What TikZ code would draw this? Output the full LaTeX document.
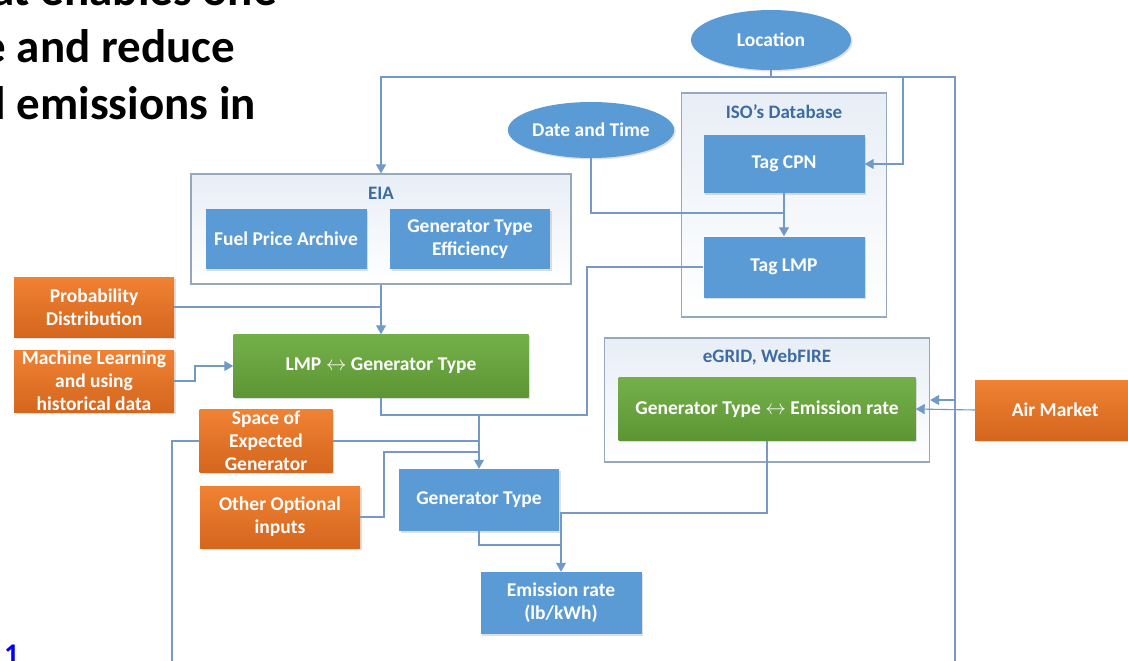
\documentclass[tikz,border=0pt]{standalone}
\usepackage{fontspec}
\setmainfont{Carlito}
\usetikzlibrary{shapes.geometric,shadows,arrows.meta}

\definecolor{boxblue}{RGB}{91,155,213}
\definecolor{boxgreen}{RGB}{116,176,74}
\definecolor{boxgreendk}{RGB}{92,150,52}
\definecolor{boxorange}{RGB}{240,130,52}
\definecolor{boxorangedk}{RGB}{212,102,30}
\definecolor{wirecol}{RGB}{118,154,196}
\definecolor{framecol}{RGB}{150,168,192}
\definecolor{framefill}{RGB}{232,238,246}
\definecolor{titlecol}{RGB}{62,108,162}

\tikzset{
  boxtext/.style={text=white, font=\bfseries\fontsize{19.5}{23}\selectfont, align=center, inner sep=0pt},
  bluebox/.style={boxtext, fill=boxblue, drop shadow={opacity=0.25,shadow xshift=1.5pt,shadow yshift=-1.5pt}},
  greenbox/.style={boxtext, top color=boxgreen, bottom color=boxgreendk, drop shadow={opacity=0.25,shadow xshift=1.5pt,shadow yshift=-1.5pt}},
  orangebox/.style={boxtext, top color=boxorange, bottom color=boxorangedk, drop shadow={opacity=0.25,shadow xshift=1.5pt,shadow yshift=-1.5pt}},
  blueoval/.style={boxtext, ellipse, fill=boxblue, drop shadow={opacity=0.25,shadow xshift=1.5pt,shadow yshift=-1.5pt}},
  frame/.style={draw=framecol, line width=1.2pt, top color=framefill, bottom color=white, inner sep=0pt},
  frametitle/.style={text=titlecol, font=\bfseries\fontsize{19}{22}\selectfont, inner sep=0pt},
  wire/.style={draw=wirecol, line width=1.1pt},
  wirearrow/.style={wire, -{Triangle[length=9pt,width=10pt]}, color=wirecol!85!boxblue},
  slidetext/.style={font=\bfseries\fontsize{47}{57}\selectfont, inner sep=0pt}
}

\begin{document}
\begin{tikzpicture}[x=1pt,y=1pt,yscale=-1]
\useasboundingbox (0,0) rectangle (1128,661);

% slide text behind the picture
\node [slidetext, anchor=base east] (slideA) at (277,6) {at enables one};
\node [slidetext, anchor=base east] (slideB) at (235,63) {e and reduce};
\node [slidetext, anchor=base east] (slideC) at (256,120) {l emissions in};
\node [anchor=north west, inner sep=0pt, text={rgb,255:red,0;green,0;blue,255}, font=\bfseries\fontsize{30}{32}\selectfont] (slideD) at (4,645) {1};

%Shape: Frame
\node [frame, minimum width=380, minimum height=110] (eia) at (381,229) {};
\node [frametitle] (eiatitle) at (381,193) {EIA};
\node [frame, minimum width=205, minimum height=224] (iso) at (784,205) {};
\node [frametitle] (isotitle) at (784,112) {ISO’s Database};
\node [frame, minimum width=325, minimum height=124] (egrid) at (767,400) {};
\node [frametitle] (egridtitle) at (767,357) {eGRID, WebFIRE};

% Ovals
\node [blueoval, minimum width=160, minimum height=60] (loc) at (771,40) {Location};
\node [blueoval, minimum width=162, minimum height=56] (datetime) at (591,130) {Date and Time};

% Blue boxes
\node [bluebox, minimum width=161, minimum height=58] (tagcpn) at (784,164) {Tag CPN};
\node [bluebox, minimum width=161, minimum height=61] (taglmp) at (784,267) {Tag LMP};
\node [bluebox, minimum width=161, minimum height=60] (fuel) at (286,239) {Fuel Price Archive};
\node [bluebox, minimum width=160, minimum height=60] (geneff) at (470,239) {Generator Type\\Efficiency};
\node [bluebox, minimum width=160, minimum height=62] (gentype) at (479,500) {Generator Type};
\node [bluebox, minimum width=161, minimum height=62] (emis) at (561,603) {Emission rate\\(lb/kWh)};

% Green boxes
\node [greenbox, minimum width=295, minimum height=63] (lmpgen) at (381,366) {LMP $\leftrightarrow$ Generator Type};
\node [greenbox, minimum width=297, minimum height=63] (genemis) at (767,409) {Generator Type $\leftrightarrow$ Emission rate};

% Orange boxes
\node [orangebox, minimum width=160, minimum height=60] (prob) at (94,307) {Probability\\Distribution};
\node [orangebox, minimum width=160, minimum height=62] (mlearn) at (94,381) {Machine Learning\\and using\\historical data};
\node [orangebox, minimum width=133, minimum height=63] (space) at (266,441) {Space of\\Expected\\Generator};
\node [orangebox, minimum width=160, minimum height=62] (other) at (280,517) {Other Optional\\inputs};
\node [orangebox, minimum width=160, minimum height=60, anchor=west] (air) at (975,410) {Air Market};

% Junction points
\coordinate (topbus) at (0,77);
\coordinate (cpnin) at (903,0);
\coordinate (rightbus) at (955,661);
\coordinate (dtbus) at (0,213);
\coordinate (mlbend) at (195,0);
\coordinate (genbus) at (0,415);
\coordinate (lmpbend) at (587,0);
\coordinate (otherbend) at (384,452);
\coordinate (leftdown) at (172,661);
\coordinate (embus) at (0,545);
\coordinate (egbus) at (0,513);

% Location
\draw [wire] (loc.south) -- (loc.south |- topbus);
\draw [wirearrow] (loc.south |- topbus) -| (eia.north);
\draw [wirearrow] (loc.south |- topbus) -| (cpnin |- tagcpn.east) -- (tagcpn.east);
\draw [wire] (loc.south |- topbus) -| (rightbus);
\draw [wirearrow] (rightbus |- 0,400) -- (egrid.east |- 0,400);
\draw [wirearrow] (air.west) -- (genemis.east);

% ISO
\draw [wirearrow] (tagcpn.south) -- (taglmp.north);
\draw [wire] (datetime.south) |- (tagcpn.south |- dtbus);

% LMP <-> Generator Type inputs
\draw [wirearrow] (eia.south) -- (lmpgen.north);
\draw [wire] (prob.east) -- (eia.south |- prob.east);
\draw [wirearrow] (mlearn.east) -| (mlbend |- lmpgen.west) -- (lmpgen.west);

% Generator Type inputs
\draw [wirearrow] (lmpgen.south) |- (gentype.north |- genbus) -- (gentype.north);
\draw [wire] (taglmp.west) -| (lmpbend |- genbus) -- (gentype.north |- genbus);
\draw [wire] (space.east) -- (gentype.north |- space.east);
\draw [wire] (space.west) -| (leftdown);
\draw [wire] (other.east) -| (otherbend) -- (gentype.north |- otherbend);

% Emission rate
\draw [wirearrow] (gentype.south) |- (emis.north |- embus) -- (emis.north);
\draw [wire] (genemis.south) |- (emis.north |- egbus) -- (emis.north |- embus);
\end{tikzpicture}
\end{document}
